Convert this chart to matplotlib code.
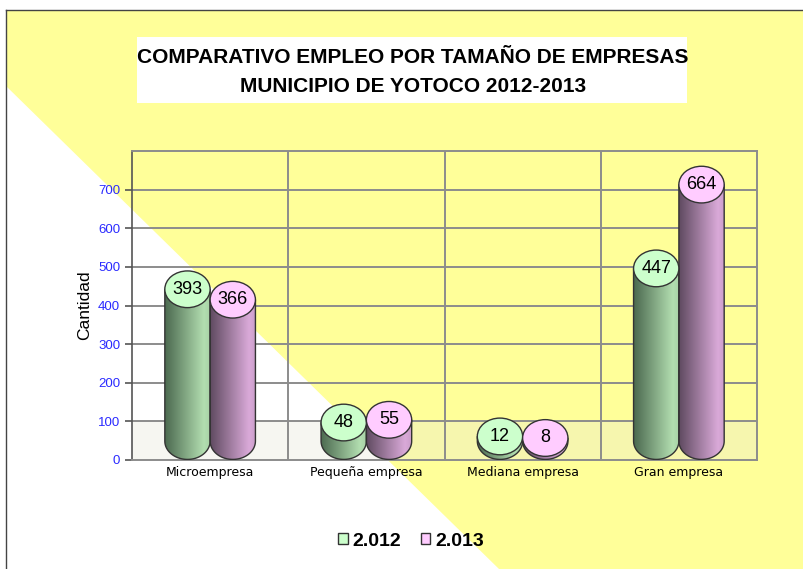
import numpy as np
import matplotlib.pyplot as plt
from matplotlib.patches import Ellipse, Polygon, Rectangle, Patch
from matplotlib.colors import LinearSegmentedColormap

# data
categorias = ['Microempresa', 'Pequeña empresa', 'Mediana empresa', 'Gran empresa']
anios = ['2.012', '2.013']
valores_2012 = [393, 48, 12, 447]
valores_2013 = [366, 55, 8, 664]
y_ticks = [0, 100, 200, 300, 400, 500, 600, 700]

verde_top, verde_osc, verde_cla = '#CCFFCC', '#4C6A50', '#B2DEB0'
rosa_top, rosa_osc, rosa_cla = '#FFCCFF', '#5F4A60', '#D9A9D8'

W, H = 804, 569
fig = plt.figure(figsize=(W / 100, H / 100), dpi=100)
fig.patch.set_facecolor('white')

# fondo: amarillo con diagonal blanca abajo a la izquierda
bg = fig.add_axes([0, 0, 1, 1], zorder=-10)
bg.set_xlim(0, W)
bg.set_ylim(H, 0)
bg.axis('off')
bg.add_patch(Rectangle((6, 10), W, H, facecolor='#FFFF99', edgecolor='none'))
bg.add_patch(Polygon([(6, 86), (6, H), (499, H)], facecolor='white', edgecolor='none'))
bg.plot([6, W], [10, 10], color='#444444', lw=1)
bg.plot([6, 6], [10, H], color='#444444', lw=1)
bg.add_patch(Rectangle((137, 37), 550, 66, facecolor='white', edgecolor='none'))

fig.text(413 / W, 1 - 57 / H, 'COMPARATIVO EMPLEO POR TAMAÑO DE EMPRESAS',
         ha='center', va='center', fontsize=15, fontweight='bold', family='Liberation Sans')
fig.text(413 / W, 1 - 87 / H, 'MUNICIPIO DE YOTOCO 2012-2013',
         ha='center', va='center', fontsize=15, fontweight='bold', family='Liberation Sans')

ax = fig.add_axes([132 / W, 1 - 460 / H, 625 / W, 309 / H])
ax.patch.set_alpha(0)

ax.axhspan(0, 100, color='#E8E8D8', alpha=0.35, lw=0, zorder=0)
for yv in y_ticks[1:]:
    ax.axhline(yv, color='#8C8C8C', lw=1.4, zorder=1)
for xv in [0.5, 1.5, 2.5]:
    ax.axvline(xv, color='#8C8C8C', lw=1.4, zorder=1)

for s in ['top', 'right', 'bottom']:
    ax.spines[s].set_color('#8C8C8C')
    ax.spines[s].set_linewidth(1.4)
ax.spines['left'].set_color('#555555')
ax.spines['left'].set_linewidth(1.2)

ax.set_yticks(y_ticks)
ax.set_yticklabels([str(v) for v in y_ticks], color='#2A2AFF', fontsize=9.5,
                   family='Liberation Sans')
ax.tick_params(axis='y', length=5, color='#555555', width=1.2)
ax.set_xticks(range(len(categorias)))
ax.set_xticklabels(categorias, fontsize=9, family='DejaVu Sans')
ax.tick_params(axis='x', length=0, pad=4)
ax.set_ylabel('Cantidad', fontsize=12.5, family='Liberation Sans', labelpad=4)

# cilindros
w = 0.29
base = 49
eh = 95
th = np.linspace(np.pi, 2 * np.pi, 60)
grad = np.linspace(0, 1, 256)
grad = np.where(grad < 0.85, grad / 0.85, 1 - (grad - 0.85) * 0.8)
grad = grad[None, :]


def cilindro(xc, v, c_osc, c_cla, c_top):
    t = base + v
    arc_x = xc + w / 2 * np.cos(th)
    arc_y = base + eh / 2 * np.sin(th)
    pts = [(xc - w / 2, t)] + list(zip(arc_x, arc_y)) + [(xc + w / 2, t)]
    body = Polygon(pts, closed=True, facecolor='none', edgecolor='#333333', lw=1, zorder=4)
    ax.add_patch(body)
    cmap = LinearSegmentedColormap.from_list('c', [c_osc, c_cla])
    im = ax.imshow(grad, cmap=cmap, aspect='auto', origin='lower',
                   extent=[xc - w / 2, xc + w / 2, base - eh / 2, t], zorder=3)
    im.set_clip_path(body)
    ax.add_patch(Ellipse((xc, t), w, eh, facecolor=c_top, edgecolor='#333333', lw=1, zorder=5))
    ax.text(xc, t, str(v), ha='center', va='center', fontsize=13,
            family='Liberation Sans', zorder=6)


for i in range(len(categorias)):
    cilindro(i - w / 2, valores_2012[i], verde_osc, verde_cla, verde_top)
    cilindro(i + w / 2, valores_2013[i], rosa_osc, rosa_cla, rosa_top)
ax.set_xlim(-0.5, 3.5)
ax.set_ylim(0, 800)

handles = [Patch(facecolor=verde_top, edgecolor='#333333'),
           Patch(facecolor=rosa_top, edgecolor='#333333')]
fig.legend(handles, anios, loc='center', bbox_to_anchor=(411 / W, 1 - 541 / H), ncol=2,
           frameon=False, handlelength=0.5, handleheight=0.5, handletextpad=0.25,
           columnspacing=1.0, prop={'family': 'Liberation Sans', 'weight': 'bold', 'size': 14})

fig.savefig('out.png', dpi=100)
